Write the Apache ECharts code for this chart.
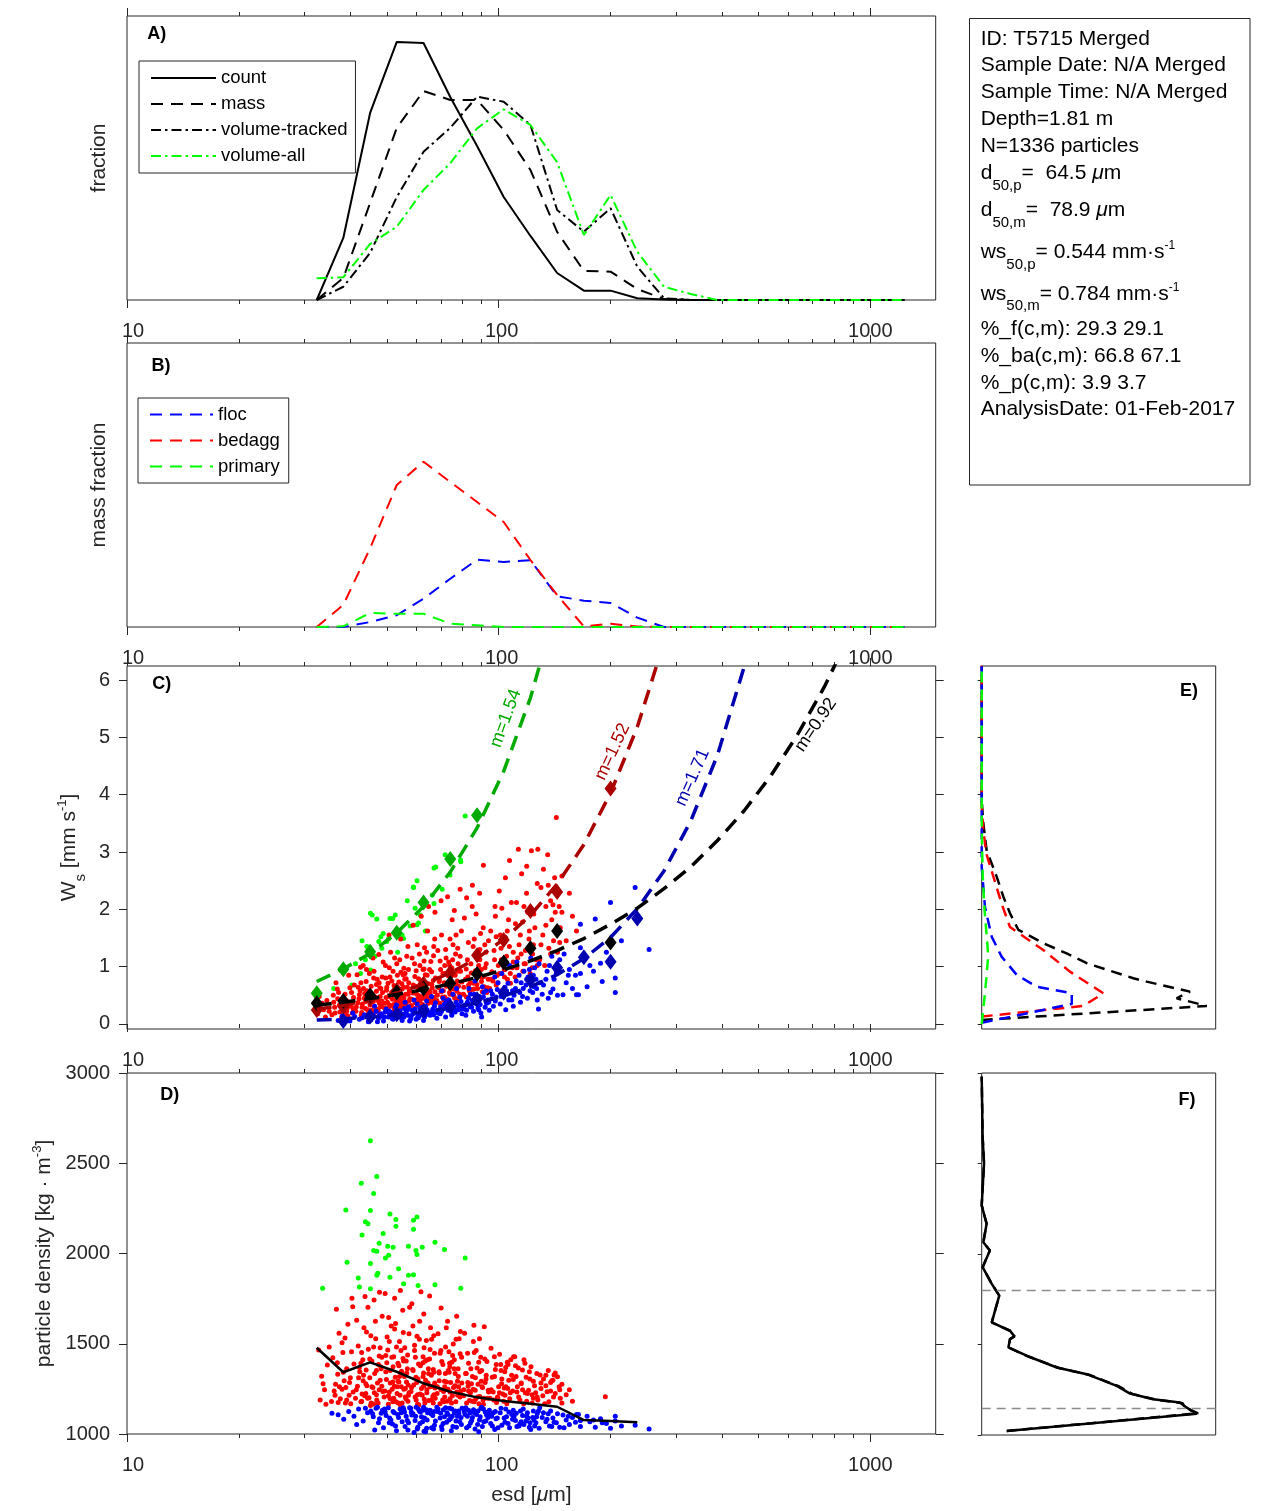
<!DOCTYPE html>
<html><head><meta charset="utf-8">
<script src="https://cdn.jsdelivr.net/npm/echarts@6.0.0/dist/echarts.min.js"></script>
<style>html,body{margin:0;padding:0;background:#fff}#c{width:1270px;height:1511px}</style>
</head><body><div id="c"></div>
<script>
// ---------------- DATA ----------------
const binCenters = [32.4,38.2,45.1,53.2,62.8,74.1,87.5,103.2,121.8,143.7,169.6,200.1,236.1,278.6,328.8,388.0,457.8,540.2,637.5,752.2,887.6,1047.4,1235.9];
const countFrac  = [0,0.0464,0.1399,0.1930,0.1922,0.1518,0.1152,0.0770,0.0479,0.0202,0.0070,0.0070,0.0013,0.0004,0,0,0,0,0,0,0,0,0];
const massFrac   = [0,0.0165,0.0726,0.1287,0.1563,0.1496,0.1496,0.1272,0.0972,0.0509,0.0217,0.0212,0.0082,0.0007,0,0,0,0,0,0,0,0,0];
const volTracked = [0,0.0099,0.0352,0.0770,0.1109,0.1287,0.1521,0.1483,0.1309,0.0673,0.0511,0.0686,0.0249,0.0013,0,0,0,0,0,0,0,0,0];
const volAll     = [0.0162,0.0170,0.0419,0.0548,0.0823,0.1023,0.1284,0.1426,0.1309,0.1030,0.0486,0.0785,0.0361,0.0099,0.0045,0,0,0,0,0,0,0,0];
const flocMass   = [0,0,0.0037,0.0088,0.0212,0.0361,0.0503,0.0486,0.0499,0.0230,0.0197,0.0180,0.0070,0,0,0,0,0,0,0,0,0,0];
const bedaggMass = [0,0.0165,0.0589,0.1062,0.1236,0.1085,0.0935,0.0785,0.0501,0.0239,0.0004,0.0025,0.0004,0,0,0,0,0,0,0,0,0,0];
const primMass   = [0,0.0005,0.0105,0.0099,0.0099,0.0025,0.0013,0,0,0,0,0,0,0,0,0,0,0,0,0,0,0,0];
const fracMax = 0.2124;

// C: bin means of settling velocity (mm/s)
const primMeanWs = [0.535,0.954,1.26,1.59,2.12,2.88,3.64];
const baMeanWs   = [0.244,0.30,0.44,0.59,0.70,0.895,1.20,1.465,1.97,2.30,null,4.11];
const flocMeanWs = [null,0.052,0.128,0.169,0.227,0.302,0.43,0.546,0.767,0.98,1.163,1.087,1.84];
const allMeanWs  = [0.36,0.40,0.50,0.55,0.62,0.71,0.87,1.07,1.32,1.62,null,1.42];
// C: fitted curves [esd, ws]
const primFit = [[32.4,0.74],[38.2,0.96],[45.1,1.23],[53.2,1.59],[62.8,2.05],[74.1,2.65],[87.5,3.42],[103.2,4.41],[121.8,5.69],[143.7,7.34]];
const baFit   = [[32.4,0.254],[38.2,0.327],[45.1,0.42],[53.2,0.54],[62.8,0.694],[74.1,0.892],[87.5,1.147],[103.2,1.475],[121.8,1.896],[143.7,2.44],[169.6,3.13],[200.1,4.03],[236.1,5.18],[278.6,6.66]];
const flocFit = [[32.4,0.067],[38.2,0.089],[45.1,0.119],[53.2,0.158],[62.8,0.209],[74.1,0.277],[87.5,0.368],[103.2,0.488],[121.8,0.648],[143.7,0.86],[169.6,1.14],[200.1,1.51],[236.1,2.01],[278.6,2.67],[328.8,3.54],[388,4.69],[457.8,6.23],[540.2,8.25]];
const allFit  = [[32.4,0.326],[38.2,0.38],[45.1,0.442],[53.2,0.514],[62.8,0.599],[74.1,0.697],[87.5,0.812],[103.2,0.946],[121.8,1.10],[143.7,1.28],[169.6,1.49],[200.1,1.74],[236.1,2.02],[278.6,2.36],[328.8,2.74],[388,3.20],[457.8,3.72],[540.2,4.33],[637.5,5.05],[752.2,5.88],[887.6,6.84]];
const fitLabels = ['m=1.54','m=1.52','m=1.71','m=0.92'];

// C scatter: [esd um, ws mm/s]
const primWs = [[81.3,3.63],[67.0,2.72],[71.8,2.95],[79.1,2.83],[60.3,2.50],[59.0,2.38],[67.0,2.10],[59.6,2.02],[61.5,1.90],[51.0,1.84],[52.7,1.90],[45.7,1.90],[47.0,1.83],[60.9,1.76],[57.8,1.71],[48.9,1.58],[50.6,1.49],[55.5,1.49],[42.9,1.45],[44.2,1.35],[47.6,1.44],[48.5,1.32],[40.3,0.68],[42.5,0.88],[45.2,0.94],[50.0,1.44],[55.0,1.55],[66.3,2.25],[67.7,2.74],[79.0,2.86],[59.0,2.39],[45.2,1.93],[51.9,1.84],[48.2,1.52],[60.3,1.73],[38.5,0.95],[36.0,0.62],[43.8,1.12],[53.5,1.25],[63.5,1.62],[70.5,2.35],[56.8,2.15],[41.2,1.05],[46.5,1.18],[74.0,2.60]];
const baWs = [[32.6,0.18],[33.1,0.32],[33.8,0.25],[34.5,0.41],[32.9,0.48],[35.0,0.22],[34.2,0.12],[33.5,0.36],
[35.6,0.16],[36.2,0.29],[36.9,0.44],[37.4,0.21],[38.0,0.35],[38.6,0.52],[39.1,0.27],[39.8,0.63],[40.4,0.19],[36.5,0.72],[37.8,0.12],[38.9,0.41],[40.1,0.31],[39.5,0.85],[36.0,0.38],[37.1,0.55],[38.3,0.24],[40.7,0.46],[35.9,0.50],[39.3,0.14],[37.6,0.95],[40.9,0.68],
[41.3,0.22],[41.8,0.37],[42.4,0.58],[42.9,0.29],[43.5,0.45],[44.0,0.74],[44.6,0.18],[45.1,0.33],[45.7,0.51],[46.2,0.92],[46.8,0.26],[47.3,0.41],[47.9,0.63],[48.4,0.35],[48.9,1.08],[41.6,0.86],[42.7,0.15],[43.2,1.02],[44.3,0.48],[45.4,0.66],[46.5,0.21],[47.1,0.78],[48.1,0.30],[48.7,0.55],[42.1,0.44],[43.8,0.27],[44.9,0.88],[46.0,0.39],[47.6,1.21],[45.9,1.15],[41.9,0.64],[43.0,0.35],[44.2,0.58],[45.5,0.24],[46.6,0.47],[47.8,0.36],[48.6,0.82],[42.5,0.99],[44.7,1.28],[46.9,0.57],
[49.3,0.28],[49.8,0.46],[50.4,0.71],[50.9,0.33],[51.5,0.55],[52.0,0.92],[52.6,0.24],[53.1,0.39],[53.7,0.62],[54.2,1.12],[54.8,0.31],[55.3,0.49],[55.9,0.78],[56.4,0.37],[57.0,1.35],[57.5,0.58],[49.6,1.02],[50.6,0.21],[51.2,1.25],[51.8,0.43],[52.3,0.67],[52.9,0.29],[53.4,0.85],[54.0,0.48],[54.5,1.48],[55.1,0.36],[55.6,0.97],[56.2,0.52],[56.7,0.27],[57.3,0.72],[49.9,0.59],[50.2,0.38],[51.0,0.82],[52.1,0.51],[53.2,1.05],[54.4,0.41],[55.5,0.64],[56.6,1.18],[57.7,0.44],[50.7,1.55],[53.8,0.34],[56.0,0.88],[52.4,0.26],[54.9,0.70],[57.2,0.95],
[58.2,0.32],[58.8,0.54],[59.5,0.83],[60.1,0.38],[60.8,0.61],[61.4,1.02],[62.1,0.29],[62.7,0.45],[63.4,0.72],[64.0,1.25],[64.7,0.36],[65.3,0.57],[66.0,0.91],[66.6,0.42],[67.3,1.48],[58.5,1.15],[59.2,0.27],[60.4,1.38],[61.1,0.49],[61.7,0.76],[62.4,0.34],[63.0,0.96],[63.7,0.52],[64.4,1.62],[65.0,0.40],[65.7,1.09],[66.3,0.63],[67.0,0.35],[67.6,0.80],[59.8,0.66],[60.6,0.44],[62.9,0.58],[64.2,0.85],[65.5,0.47],[66.8,1.19],[58.9,1.72],[61.9,1.88],[64.8,2.05],[67.4,1.95],[63.2,1.33],[60.0,0.93],[66.1,0.69],
[68.2,0.41],[69.0,0.63],[69.8,0.95],[70.6,0.47],[71.4,0.72],[72.2,1.15],[73.0,0.38],[73.8,0.55],[74.6,0.84],[75.4,1.38],[76.2,0.45],[77.0,0.68],[77.8,1.05],[78.6,0.52],[79.4,1.62],[68.6,1.28],[69.4,0.36],[70.2,1.55],[71.0,0.58],[71.8,0.88],[72.6,0.43],[73.4,1.08],[74.2,0.62],[75.0,1.82],[75.8,0.49],[76.6,1.22],[77.4,0.75],[78.2,0.44],[79.0,0.92],[70.0,2.15],[72.9,2.22],[76.0,1.98],[78.8,2.35],[74.0,1.48],[71.6,1.02],[77.6,1.32],[69.2,0.78],[73.6,0.70],
[80.4,0.52],[81.4,0.78],[82.4,1.12],[83.4,0.58],[84.4,0.89],[85.4,1.35],[86.4,0.49],[87.4,0.69],[88.4,1.02],[89.4,1.58],[90.4,0.56],[91.4,0.83],[92.4,1.25],[93.4,0.63],[80.9,1.85],[81.9,0.47],[82.9,1.42],[83.9,0.72],[84.9,2.05],[85.9,0.61],[86.9,1.18],[87.9,0.88],[88.9,2.28],[89.9,0.74],[90.9,1.68],[91.9,0.98],[92.9,0.55],[93.9,1.45],[85.0,2.42],[91.0,2.77],[87.0,1.92],[82.0,2.20],[89.0,1.30],
[94.6,0.62],[95.9,0.91],[97.2,1.28],[98.5,0.68],[99.8,1.02],[101.1,1.55],[102.4,0.59],[103.7,0.82],[105.0,1.18],[106.3,1.82],[107.6,0.71],[108.9,0.98],[95.2,1.62],[96.5,0.75],[97.8,2.05],[99.1,0.85],[100.4,2.32],[101.7,1.12],[103.0,1.42],[104.3,2.55],[105.6,0.78],[106.9,1.35],[108.2,2.12],[109.5,1.08],[98.0,1.88],[102.0,2.02],[107.0,2.85],[104.0,0.95],
[110.8,0.82],[112.6,1.15],[114.4,1.55],[116.2,0.92],[118.0,1.28],[119.8,1.95],[121.6,0.88],[123.4,1.22],[125.2,1.68],[127.0,2.45],[111.7,2.12],[113.5,1.38],[115.3,2.62],[117.1,1.05],[118.9,2.28],[120.7,1.48],[122.5,3.02],[124.3,1.92],[126.1,1.12],[113.0,3.05],[119.0,2.75],[116.0,1.78],
[129.0,1.12],[131.5,1.55],[134.0,2.05],[136.5,1.32],[139.0,1.82],[141.5,2.55],[144.0,1.25],[146.5,1.68],[130.0,2.38],[133.0,1.02],[135.5,2.95],[138.0,2.15],[140.5,1.45],[143.0,3.6],[145.5,2.05],[127.5,3.05],[148.0,1.95],[132.0,2.70],
[152,1.45],[158,1.88],[155,2.28],[162,1.62],[148,2.58],
[36.3,0.19],[37.3,0.33],[38.2,0.47],[39.0,0.22],[39.7,0.38],[40.6,0.26],[36.8,0.61],[38.7,0.17],[40.2,0.55],[37.9,0.28],
[41.4,0.30],[42.2,0.51],[42.8,0.20],[43.3,0.62],[43.9,0.39],[44.4,0.25],[45.0,0.56],[45.6,0.42],[46.3,0.31],[46.9,0.69],[47.4,0.24],[48.0,0.48],[48.5,0.40],[44.1,0.95],[46.1,0.80],[47.7,0.72],[42.6,0.72],[45.2,0.19],[48.2,0.62],[43.6,0.53],
[49.4,0.36],[50.0,0.64],[50.5,0.29],[51.1,0.47],[51.6,0.75],[52.2,0.34],[52.7,0.56],[53.3,0.44],[53.9,0.73],[54.4,0.27],[55.0,0.61],[55.6,0.45],[56.1,0.33],[56.8,0.64],[57.4,0.40],[50.8,0.98],[52.5,1.15],[54.6,0.90],[56.4,0.79],[51.9,0.31],[53.6,0.53],[55.3,0.86],[57.1,0.52],[49.7,0.80],[54.1,0.61],
[58.3,0.43],[58.9,0.68],[59.6,0.37],[60.2,0.52],[60.9,0.79],[61.5,0.41],[62.2,0.63],[62.8,0.49],[63.5,0.86],[64.1,0.45],[64.8,0.70],[65.4,0.54],[66.1,0.38],[66.7,0.76],[67.4,0.56],[59.4,1.05],[61.2,1.22],[63.0,1.10],[65.2,0.95],[66.9,1.35],[60.5,0.33],[62.6,0.95],[64.5,0.58],[67.0,0.46],
[68.4,0.50],[69.2,0.74],[70.0,0.56],[70.8,0.88],[71.6,0.47],[72.4,0.66],[73.2,0.84],[74.0,0.52],[74.8,0.98],[75.6,0.61],[76.4,0.85],[77.2,0.57],[78.0,0.66],[78.8,1.18],[79.6,0.73],[69.6,1.10],[72.0,1.30],[75.2,1.12],[77.8,0.92],[71.2,0.42],[73.8,1.02],[76.8,1.55],
[80.6,0.64],[81.8,0.96],[83.0,0.68],[84.2,1.05],[85.4,0.71],[86.6,0.93],[87.8,0.62],[89.0,1.12],[90.2,0.81],[91.4,0.65],[92.6,1.05],[93.8,0.78],[82.6,0.82],[86.0,1.48],[88.4,1.28],[91.8,1.38],[84.8,0.60],[89.8,0.95],
[95.5,0.78],[97.5,1.12],[99.5,0.72],[101.5,1.32],[103.5,0.95],[105.5,1.62],[107.5,0.88],[109.5,1.25],[112,0.98],[115,1.22],[118,1.05],[121,1.62],[124,1.38],[127,1.02],[98.5,1.52],[104.5,1.08],[111,1.75],[117,2.05],[123,0.98],[100.5,0.88],
[130,1.38],[134,1.72],[138,1.22],[142,1.95],[146,1.42],[136,2.42],[140,2.08]];
const flocWs = [[37.0,0.06],[38.5,0.10],[39.8,0.05],[41.0,0.13],[42.2,0.08],[43.5,0.16],[44.6,0.04],[40.5,0.19],[43.0,0.11],[38.0,0.14],
[45.3,0.07],[46.0,0.15],[46.8,0.22],[47.5,0.10],[48.3,0.18],[49.0,0.05],[49.8,0.26],[50.5,0.12],[51.3,0.20],[52.0,0.08],[52.8,0.29],[53.5,0.14],[54.3,0.23],[55.0,0.06],[46.4,0.31],[48.7,0.13],[50.9,0.17],[53.1,0.33],[54.7,0.11],[47.2,0.04],[51.8,0.09],[49.5,0.21],
[55.6,0.12],[56.4,0.21],[57.2,0.30],[58.0,0.09],[58.8,0.18],[59.6,0.26],[60.4,0.35],[61.2,0.14],[62.0,0.23],[62.8,0.06],[63.6,0.31],[64.4,0.17],[56.0,0.38],[57.6,0.05],[59.2,0.42],[60.8,0.11],[62.4,0.29],[64.0,0.40],[58.4,0.24],[61.6,0.19],[63.2,0.12],[55.8,0.27],[60.0,0.08],[63.9,0.22],
[65.4,0.15],[66.5,0.26],[67.6,0.37],[68.7,0.19],[69.8,0.30],[70.9,0.45],[72.0,0.12],[73.1,0.24],[74.2,0.36],[75.3,0.52],[76.4,0.21],[77.5,0.33],[78.6,0.47],[79.7,0.18],[66.0,0.48],[68.2,0.10],[70.4,0.58],[72.6,0.29],[74.8,0.15],[77.0,0.62],[79.2,0.39],[71.5,0.35],[76.0,0.27],[67.0,0.22],[73.5,0.42],[78.0,0.25],
[80.8,0.26],[82.4,0.38],[84.0,0.52],[85.6,0.22],[87.2,0.35],[88.8,0.48],[90.4,0.65],[92.0,0.29],[93.6,0.42],[95.2,0.58],[96.8,0.31],[98.4,0.47],[99.6,0.72],[81.6,0.15],[83.2,0.62],[86.4,0.75],[89.6,0.19],[91.2,0.55],[94.4,0.24],[97.6,0.82],[85.0,0.41],[92.8,0.36],[88.0,0.28],[95.8,0.44],[83.8,0.30],[90.0,0.12],
[101,0.35],[103.5,0.52],[106,0.71],[108.5,0.42],[111,0.62],[113.5,0.85],[116,0.48],[118.5,0.68],[121,0.95],[123.5,0.55],[126,0.78],[128.5,1.05],[102,0.88],[104.5,0.25],[107,1.02],[109.5,0.31],[112,1.08],[114.5,0.38],[117,0.92],[119.5,0.45],[122,1.15],[124.5,0.65],[127,0.42],[105,0.58],[115,0.72],[125,0.98],[110,0.50],[120,0.82],
[131,0.52],[134,0.78],[137,1.02],[140,0.61],[143,0.88],[146,1.12],[149,0.51],[152,0.72],[155,0.95],[158,0.62],[161,0.85],[164,0.51],[128,0.26],[136,0.45],[144,0.50],[150,1.22],[166,0.88],[139,1.18],
[166,1.74],[182,1.83],[200,2.12],[233,2.38],[254,1.30],[166,1.33],[188,1.06],[154,0.85],[206,0.80],[190,0.74],[173,0.65],[206,0.55],[162,0.51],[176,1.02],[195,1.25],[214,1.45],[180,0.92],
[45.8,0.11],[47.8,0.16],[49.3,0.12],[50.8,0.22],[52.4,0.15],[53.8,0.19],[55.4,0.17],[56.8,0.25],[58.2,0.14],[59.8,0.20],[61.4,0.28],[62.6,0.17],[64.2,0.25],[65.8,0.21],[67.2,0.31],[68.4,0.24],[69.6,0.18],[71.0,0.27],[72.4,0.40],[73.8,0.30],[75.0,0.22],[76.8,0.38],[78.2,0.31],[79.4,0.26],[81.2,0.33],[83.0,0.45],[84.6,0.29],[86.0,0.52],[87.8,0.42],[89.2,0.34],[91.0,0.47],[92.4,0.58],[94.0,0.38],[96.2,0.52],[98.0,0.40],[99.2,0.60],[101.5,0.48],[104,0.64],[106.5,0.42],[109,0.58],[111.5,0.75],[114,0.55],[116.5,0.62],[119,0.78],[121.5,0.58],[124,0.85],[126.5,0.62],[129,0.72],[132,0.68],[135,0.92],[138,0.55],[141,0.78],[57.0,0.15],[60.6,0.13],[63.0,0.19],[66.8,0.16],[70.2,0.22],[74.6,0.28],[82.0,0.24],[88.4,0.25]];

// D: bin mean density and particle densities [esd um, kg/m3]
const allMeanRho = [1478,1342,1397,1345,1281,1234,1203,1183,1167,1151,1077,1072,1065];
const primRho = [[45.2,2625],[47.0,2426],[42.7,2389],[46.1,2333],[38.8,2241],[45.2,2238],[43.8,2176],[44.5,2165],[51.0,2219],[52.9,2188],[60.3,2202],[59.0,2184],[52.9,2151],[42.9,2102],[48.9,2111],[59.0,2135],[39.1,1951],[47.7,2057],[46.1,2016],[47.0,2013],[50.3,2040],[52.0,2035],[57.2,2040],[59.9,2016],[62.3,2035],[67.4,2063],[71.5,2022],[50.6,1990],[49.6,1975],[60.3,1994],[81.3,1975],[45.2,1944],[53.8,1916],[41.9,1864],[47.0,1879],[47.3,1891],[51.0,1868],[55.5,1832],[57.2,1879],[59.0,1882],[60.7,1823],[67.4,1827],[79.1,1808],[33.6,1808],[42.2,1814],[45.2,1805]];
const baRho = [[32.8,1465],[33.4,1320],[34.0,1245],[34.6,1382],[33.1,1188],[35.0,1482],[34.3,1165],[33.7,1278],
[35.5,1180],[36.1,1238],[36.6,1691],[37.2,1558],[37.9,1506],[38.4,1295],[39.0,1362],[39.6,1214],[40.3,1752],[40.5,1705],[35.8,1422],[36.9,1331],[37.5,1195],[38.1,1452],[38.8,1258],[39.3,1608],[40.0,1168],[40.8,1388],[36.4,1275],[38.6,1532],[39.9,1312],[37.0,1175],
[41.2,1198],[41.7,1264],[42.3,1345],[42.8,1452],[43.4,1588],[43.9,1225],[44.5,1702],[45.0,1312],[45.6,1405],[46.1,1166],[46.7,1528],[47.2,1283],[47.8,1785],[48.3,1362],[48.8,1235],[41.5,1630],[42.6,1178],[43.1,1412],[44.2,1268],[45.3,1545],[46.4,1335],[47.0,1188],[48.0,1478],[48.6,1652],[42.0,1312],[43.7,1762],[44.8,1201],[45.9,1258],[47.5,1385],[46.2,1742],[41.9,1488],[42.9,1222],[44.0,1355],[45.4,1172],[46.6,1625],[47.7,1245],[48.5,1425],[43.2,1295],[44.6,1470],[46.9,1218],
[49.2,1205],[49.7,1345],[50.3,1465],[50.8,1232],[51.4,1598],[51.9,1288],[52.5,1752],[53.0,1178],[53.6,1392],[54.1,1512],[54.7,1262],[55.2,1685],[55.8,1318],[56.3,1195],[56.9,1438],[57.4,1555],[49.5,1778],[50.5,1165],[51.1,1352],[51.7,1248],[52.2,1428],[52.8,1612],[53.3,1225],[53.9,1288],[54.4,1795],[55.0,1172],[55.5,1405],[56.1,1252],[56.6,1338],[57.2,1215],[49.9,1302],[50.1,1538],[51.0,1196],[52.0,1372],[53.1,1482],[54.3,1215],[55.4,1562],[56.5,1288],[57.6,1702],[50.6,1645],[53.7,1172],[55.9,1478],[52.4,1265],[54.8,1348],[57.0,1182],
[58.1,1235],[58.7,1358],[59.4,1492],[60.0,1188],[60.7,1305],[61.3,1625],[62.0,1252],[62.6,1395],[63.3,1172],[63.9,1518],[64.6,1278],[65.2,1765],[65.9,1325],[66.5,1208],[67.2,1448],[58.4,1722],[59.1,1272],[60.3,1542],[61.0,1162],[61.6,1378],[62.3,1215],[62.9,1665],[63.6,1298],[64.3,1412],[64.9,1185],[65.6,1588],[66.2,1265],[66.9,1342],[67.5,1198],[59.7,1425],[60.5,1218],[62.8,1338],[64.1,1245],[65.4,1468],[66.7,1172],[58.8,1598],[61.8,1788],[64.7,1362],[67.3,1282],[63.1,1192],[59.9,1315],[66.0,1525],
[68.3,1225],[69.1,1345],[69.9,1462],[70.7,1188],[71.5,1292],[72.3,1588],[73.1,1248],[73.9,1372],[74.7,1172],[75.5,1498],[76.3,1268],[77.1,1652],[77.9,1318],[78.7,1205],[79.5,1425],[68.7,1555],[69.5,1168],[70.3,1402],[71.1,1235],[71.9,1335],[72.7,1182],[73.5,1455],[74.3,1285],[75.1,1212],[75.9,1362],[76.7,1178],[77.5,1292],[78.3,1528],[79.1,1238],[70.0,1698],[72.9,1625],[76.0,1412],[78.9,1568],[74.0,1195],[71.6,1262],[77.6,1215],[69.2,1295],[73.6,1342],
[80.5,1212],[81.5,1335],[82.5,1448],[83.5,1185],[84.5,1278],[85.5,1512],[86.5,1242],[87.5,1365],[88.5,1168],[89.5,1425],[90.5,1258],[91.5,1594],[92.5,1305],[93.5,1198],[81.0,1558],[82.0,1172],[83.0,1392],[84.0,1228],[85.0,1318],[86.0,1178],[87.0,1462],[88.0,1275],[89.0,1208],[90.0,1352],[91.0,1165],[92.0,1285],[93.0,1402],[94.0,1232],[85.8,1602],[88.8,1528],[82.8,1265],[90.8,1188],[86.8,1195],
[94.8,1198],[96.1,1315],[97.4,1428],[98.7,1175],[100.0,1262],[101.3,1385],[102.6,1222],[103.9,1345],[105.2,1168],[106.5,1298],[107.8,1412],[109.1,1238],[95.4,1475],[96.7,1232],[98.0,1358],[99.3,1205],[100.6,1442],[101.9,1278],[103.2,1182],[104.5,1368],[105.8,1252],[107.1,1195],[108.4,1325],[109.7,1428],[97.0,1188],[102.0,1305],[106.0,1385],[104.0,1215],
[110.5,1428],[112.3,1262],[114.1,1188],[115.9,1355],[117.7,1392],[119.5,1225],[121.3,1305],[123.1,1172],[124.9,1268],[126.7,1335],[111.4,1318],[113.2,1205],[115.0,1278],[116.8,1168],[118.6,1315],[120.4,1242],[122.2,1372],[124.0,1198],[125.8,1228],[113.0,1365],[119.0,1182],[116.0,1245],
[129.3,1327],[131.5,1212],[134.0,1268],[136.5,1178],[139.0,1295],[141.0,1327],[144.0,1317],[146.5,1198],[130.0,1252],[133.0,1168],[135.0,1234],[138.0,1285],[140.5,1205],[142.0,1225],[145.5,1262],[127.5,1188],[148.0,1172],[132.0,1305],
[152,1218],[158,1182],[155,1245],[193.7,1207],[148,1275],
[36.3,1215],[37.3,1262],[38.2,1342],[39.0,1188],[39.7,1285],[40.6,1232],[36.8,1395],[38.7,1172],[40.2,1455],[37.9,1248],
[41.4,1245],[42.2,1368],[42.8,1182],[43.3,1325],[43.9,1278],[44.4,1198],[45.0,1415],[45.6,1262],[46.3,1228],[46.9,1352],[47.4,1172],[48.0,1298],[48.5,1265],[44.1,1565],[46.1,1482],[47.7,1432],[42.6,1392],[45.2,1158],[48.2,1372],[43.6,1212],
[49.4,1238],[50.0,1395],[50.5,1212],[51.1,1282],[51.6,1425],[52.2,1198],[52.7,1315],[53.3,1262],[53.9,1378],[54.4,1162],[55.0,1335],[55.6,1248],[56.1,1205],[56.8,1362],[57.4,1228],[50.8,1512],[52.5,1582],[54.6,1462],[56.4,1405],[51.9,1178],[53.6,1292],[55.3,1418],[57.1,1272],[49.7,1435],[54.1,1318],
[58.3,1258],[58.9,1352],[59.6,1205],[60.2,1285],[60.9,1388],[61.5,1222],[62.6,1318],[62.8,1265],[63.5,1405],[64.1,1228],[64.8,1335],[65.4,1262],[66.1,1188],[66.7,1358],[67.4,1255],[59.4,1462],[61.2,1525],[63.0,1478],[65.2,1415],[66.9,1545],[60.5,1165],[62.6,1428],[64.5,1282],[67.0,1218],
[68.4,1262],[69.2,1338],[70.0,1245],[70.8,1385],[71.6,1205],[72.4,1288],[73.2,1352],[74.0,1232],[74.8,1398],[75.6,1258],[76.4,1335],[77.2,1232],[78.0,1262],[78.8,1445],[79.6,1282],[69.6,1448],[72.0,1482],[75.2,1435],[77.8,1362],[71.2,1178],[73.8,1392],[76.8,1525],
[80.6,1245],[81.8,1335],[83.0,1238],[84.2,1362],[85.4,1248],[86.6,1312],[87.8,1205],[89.0,1345],[90.2,1262],[91.4,1198],[92.6,1325],[93.8,1242],[82.6,1285],[86.0,1452],[88.4,1398],[91.8,1415],[84.8,1182],[89.8,1292],
[95.5,1245],[97.5,1318],[99.5,1202],[101.5,1352],[103.5,1255],[105.5,1398],[107.5,1228],[109.5,1302],[112,1232],[115,1282],[118,1228],[121,1345],[124,1292],[127,1205],[98.5,1385],[104.5,1262],[111,1378],[117,1412],[123,1218],[100.5,1228],
[130,1282],[134,1325],[138,1238],[142,1338],[146,1245],[136,1352],[140,1298]];
const flocRho = [[35.6,1115],[37.0,1106],[38.3,1082],[39.5,1125],[40.8,1098],[42.0,1138],[43.2,1072],[44.4,1118],[41.5,1052],[43.8,1142],
[45.3,1128],[46.0,1095],[46.8,1142],[47.5,1062],[48.3,1115],[49.0,1035],[49.8,1102],[50.5,1145],[51.3,1078],[52.0,1125],[52.8,1045],[53.5,1108],[54.3,1138],[55.0,1068],[46.4,1022],[48.7,1132],[50.9,1088],[53.1,1018],[54.7,1118],[47.2,1148],[51.8,1055],[49.5,1122],
[55.6,1135],[56.4,1098],[57.2,1062],[58.0,1142],[58.8,1112],[59.6,1075],[60.4,1028],[61.2,1128],[62.0,1095],[62.8,1148],[63.6,1012],[64.4,1118],[56.0,1042],[57.6,1145],[59.2,1008],[60.8,1138],[62.4,1068],[64.0,1032],[58.4,1105],[61.6,1122],[63.2,1088],[55.8,1122],[60.0,1148],[63.9,1135],
[65.4,1132],[66.5,1102],[67.6,1072],[68.7,1138],[69.8,1115],[70.9,1058],[72.0,1145],[73.1,1108],[74.2,1085],[75.3,1042],[76.4,1128],[77.5,1098],[78.6,1068],[79.7,1142],[66.0,1035],[68.2,1148],[70.4,1025],[72.6,1118],[74.8,1138],[77.0,1038],[79.2,1092],[71.5,1095],[76.0,1118],[67.0,1125],[73.5,1078],[78.0,1128],
[80.8,1125],[82.4,1098],[84.0,1062],[85.6,1135],[87.2,1108],[88.8,1078],[90.4,1042],[92.0,1122],[93.6,1092],[95.2,1058],[96.8,1118],[98.4,1085],[99.6,1035],[81.6,1145],[83.2,1045],[86.4,1028],[89.6,1142],[91.2,1068],[94.4,1132],[97.6,1025],[85.0,1092],[92.8,1105],[88.0,1128],[95.8,1098],[83.8,1118],[90.0,1148],
[101,1118],[103.5,1088],[106,1058],[108.5,1108],[111,1075],[113.5,1045],[116,1102],[118.5,1072],[121,1038],[123.5,1092],[126,1062],[128.5,1032],[102,1048],[104.5,1138],[107,1035],[109.5,1132],[112,1042],[114.5,1128],[117,1052],[119.5,1118],[122,1025],[124.5,1078],[127,1112],[105,1095],[115,1068],[125,1045],[110,1098],[120,1088],
[131,1092],[134,1068],[137,1045],[140,1088],[143,1062],[146,1038],[149,1105],[152,1078],[155,1052],[158,1092],[161,1065],[164,1108],[128,1128],[136,1112],[144,1112],[150,1035],[166,1075],[139,1042],
[166,1042],[182,1038],[200,1032],[233,1048],[254,1028],[166,1078],[188,1085],[154,1098],[206,1072],[190,1062],[173,1098],[206,1098],[162,1108],[176,1068],[195,1058],[214,1045],[180,1078],
[45.8,1112],[47.8,1085],[49.3,1138],[50.8,1062],[52.4,1118],[53.8,1092],[55.4,1145],[56.8,1075],[58.2,1122],[59.8,1098],[61.4,1058],[62.6,1132],[64.2,1078],[65.8,1112],[67.2,1048],[68.4,1125],[69.6,1088],[71.0,1135],[72.4,1065],[73.8,1142],[75.0,1098],[76.8,1072],[78.2,1112],[79.4,1052],[81.2,1108],[83.0,1132],[84.6,1075],[86.0,1118],[87.8,1052],[89.2,1095],[91.0,1138],[92.4,1072],[94.0,1112],[96.2,1045],[98.0,1125],[99.2,1088],[101.5,1142],[104,1065],[106.5,1122],[109,1082],[111.5,1115],[114,1055],[116.5,1138],[119,1098],[121.5,1062],[124,1128],[126.5,1095],[129,1145],[132,1118],[135,1082],[138,1128],[141,1065],[57.0,1022],[60.6,1038],[63.0,1015],[66.8,1028],[70.2,1042],[74.6,1018],[82.0,1035],[88.4,1012]];

// E: ws distributions [relative frequency, ws]
const eAll  = [[0,0.07],[0.962,0.314],[0.833,0.448],[0.89,0.564],[0.705,0.738],[0.648,0.797],[0.449,1.06],[0.363,1.23],[0.263,1.41],[0.157,1.64],[0.121,1.93],[0.0925,2.22],[0.064,2.57],[0.021,3.03],[0.007,3.5],[0,3.9],[0,6.25]];
const eBa   = [[0,0.13],[0.434,0.314],[0.52,0.535],[0.377,0.913],[0.263,1.29],[0.121,1.69],[0.085,2.1],[0.05,2.57],[0.02,2.97],[0.007,3.38],[0,3.79],[0,6.25]];
const eFloc = [[0,0.02],[0.385,0.349],[0.385,0.535],[0.235,0.65],[0.15,0.855],[0.085,1.175],[0.043,1.52],[0.014,2.04],[0,2.74],[0,6.25]];
const ePrim = [[0,0],[0.008,0.3],[0.02,0.8],[0.028,1.2],[0.02,1.6],[0.012,2.0],[0.004,2.6],[0,3.5],[0,6.25]];
// F: density distributions [relative frequency, density]
const fCount = [[0.107,1022],[0.919,1118],[0.876,1151],[0.847,1179],[0.733,1198],[0.634,1229],[0.577,1271],[0.449,1336],[0.321,1373],[0.192,1438],[0.114,1484],[0.121,1530],[0.14,1545],[0.121,1576],[0.043,1622],[0.075,1770],[0.043,1835],[0.004,1927],[0.035,2019],[0.007,2065],[0.021,2167],[0,2269],[0.01,2500],[0.004,2647],[0,2980]];
const fMass  = [[0.107,1022],[0.925,1120],[0.87,1150],[0.858,1176],[0.742,1196],[0.645,1226],[0.588,1268],[0.458,1333],[0.33,1370],[0.195,1436],[0.114,1484],[0.121,1530],[0.14,1545],[0.121,1576],[0.043,1622],[0.075,1770],[0.043,1835],[0.004,1927],[0.035,2019],[0.007,2065],[0.021,2167],[0,2269],[0.01,2500],[0.004,2647],[0,2980]];
const rhoRefLines = [1800, 1150];

const xMajor = [10, 100, 1000];
const xMinor = [20,30,40,50,60,70,80,90,200,300,400,500,600,700,800,900];
const wsTicks = [0,1,2,3,4,5,6];

const infoLines = [
  'ID: T5715 Merged','Sample Date: N/A Merged','Sample Time: N/A Merged','Depth=1.81 m','N=1336 particles',
  '{a|d}{s|50,p}{a|=  64.5 }{mu|μ}{a|m}','{a|d}{s|50,m}{a|=  78.9 }{mu|μ}{a|m}',
  '{a|ws}{s|50,p}{a|= 0.544 mm·s}{p|-1}','{a|ws}{s|50,m}{a|= 0.784 mm·s}{p|-1}',
  '%_f(c,m): 29.3 29.1','%_ba(c,m): 66.8 67.1','%_p(c,m): 3.9 3.7','AnalysisDate: 01-Feb-2017'];
const infoY = [39,65.5,92.5,119.5,146,173.5,210.5,252.5,294,329.5,356.5,383.5,409.5];

// ---------------- STYLE / BUILD ----------------
const FONT = '"Liberation Sans", Arial, Helvetica, sans-serif';
const AX = '#262626';
const pairs = (xs, ys) => ys.map((y, i) => (y == null ? null : [xs[i], y])).filter(Boolean);
const fmt = v => String(Math.round(v));
const xFmt = v => { const r = Math.round(v); return r === 10 ? '{s|10}' : (r === 100 ? '{t|100}' : String(r)); };
const xRich = {
  s:{padding:[0,0,0,12], fontSize:20, color:AX, fontFamily:FONT},
  t:{padding:[0,0,0,6], fontSize:20, color:AX, fontFamily:FONT}
};

const grids = [
  {left:127, top:16,  width:808.7, height:284},
  {left:127, top:343, width:808.7, height:284},
  {left:127, top:666, width:808.7, height:363},
  {left:127, top:1073,width:808.7, height:361},
  {left:981.7, top:666, width:234, height:363},
  {left:981.7, top:1073,width:234, height:362}
].map(g => Object.assign(g, {show:true, borderColor:AX, borderWidth:1, backgroundColor:'rgba(0,0,0,0)', containLabel:false, outerBoundsMode:'none'}));

function logAxes(gi, extra) {
  const base = {type:'log', logBase:10, gridIndex:gi, min:10, max:1500, axisLine:{show:false}, splitLine:{show:false}, minorTick:{show:false}, minorSplitLine:{show:false}};
  const tick = (vals, len) => ({show:true, inside:false, length:len, customValues:vals, lineStyle:{color:AX, width:1}});
  return [
    Object.assign({}, base, {position:'bottom', axisTick:tick(xMajor, 8),
      axisLabel:{show:true, customValues:xMajor, margin:21, fontSize:20, color:AX, fontFamily:FONT, formatter:xFmt, rich:xRich}}, extra || {}),
    Object.assign({}, base, {position:'bottom', axisTick:tick(xMinor, 4), axisLabel:{show:false}}),
    Object.assign({}, base, {position:'top', axisTick:tick(xMajor, 8), axisLabel:{show:false}}),
    Object.assign({}, base, {position:'top', axisTick:tick(xMinor, 4), axisLabel:{show:false}})
  ];
}
const xAxis = [].concat(
  logAxes(0), logAxes(1), logAxes(2),
  logAxes(3, {name:'esd [{mu|μ}m]', nameLocation:'middle', nameGap:50.5,
     nameTextStyle:{fontSize:21, color:AX, fontFamily:FONT, rich:{mu:{fontSize:21, fontStyle:'italic', color:AX, fontFamily:FONT}}}}),
  [{type:'value', gridIndex:4, min:0, max:1, axisLine:{show:false}, axisTick:{show:false}, axisLabel:{show:false}, splitLine:{show:false}},
   {type:'value', gridIndex:5, min:0, max:1, axisLine:{show:false}, axisTick:{show:false}, axisLabel:{show:false}, splitLine:{show:false}}]
);
const noTicks = {axisLine:{show:false}, axisTick:{show:false}, axisLabel:{show:false}, splitLine:{show:false}};
const nameStyle = {fontSize:21, color:AX, fontFamily:FONT};
const yAxis = [
  Object.assign({type:'value', gridIndex:0, min:0, max:fracMax, position:'left', name:'fraction', nameLocation:'middle', nameGap:17.5, nameRotate:90, nameTextStyle:nameStyle}, noTicks),
  Object.assign({type:'value', gridIndex:1, min:0, max:fracMax, position:'left', name:'mass fraction', nameLocation:'middle', nameGap:17.5, nameRotate:90, nameTextStyle:nameStyle}, noTicks),
  {type:'value', gridIndex:2, min:-0.088, max:6.245, position:'left', axisLine:{show:false}, splitLine:{show:false},
   axisTick:{show:true, inside:false, length:8, customValues:wsTicks, lineStyle:{color:AX}},
   axisLabel:{show:true, customValues:wsTicks, margin:17, fontSize:20, color:AX, fontFamily:FONT, formatter:fmt},
   name:'{a|W}{b|s}{a| [mm s}{c|-1}{a|]}', nameLocation:'middle', nameGap:39, nameRotate:90,
   nameTextStyle:{fontSize:21, color:AX, fontFamily:FONT, rich:{
     a:{fontSize:21, color:AX, fontFamily:FONT},
     b:{fontSize:15, color:AX, fontFamily:FONT, padding:[22,0,0,0]},
     c:{fontSize:13, color:AX, fontFamily:FONT, padding:[0,0,14,0]}}}},
  {type:'value', gridIndex:2, min:-0.088, max:6.245, position:'right', axisLine:{show:false}, splitLine:{show:false},
   axisTick:{show:true, inside:false, length:8, customValues:wsTicks, lineStyle:{color:AX}}, axisLabel:{show:false}},
  {type:'value', gridIndex:3, min:1000, max:3000, interval:500, position:'left', axisLine:{show:false}, splitLine:{show:false},
   axisTick:{show:true, inside:false, length:8, lineStyle:{color:AX}},
   axisLabel:{show:true, margin:17, fontSize:20, color:AX, fontFamily:FONT, formatter:fmt},
   name:'{a|particle density [kg · m}{c|-3}{a|]}', nameLocation:'middle', nameGap:67, nameRotate:90,
   nameTextStyle:{fontSize:21, color:AX, fontFamily:FONT, rich:{
     a:{fontSize:21, color:AX, fontFamily:FONT},
     c:{fontSize:13, color:AX, fontFamily:FONT, padding:[0,0,14,0]}}}},
  {type:'value', gridIndex:3, min:1000, max:3000, interval:500, position:'right', axisLine:{show:false}, splitLine:{show:false},
   axisTick:{show:true, inside:false, length:8, lineStyle:{color:AX}}, axisLabel:{show:false}},
  {type:'value', gridIndex:4, min:-0.088, max:6.245, position:'right', axisLine:{show:false}, splitLine:{show:false},
   axisTick:{show:true, inside:true, length:4, customValues:wsTicks, lineStyle:{color:AX}}, axisLabel:{show:false}},
  {type:'value', gridIndex:5, min:1000, max:3000, interval:500, position:'right', axisLine:{show:false}, splitLine:{show:false},
   axisTick:{show:true, inside:true, length:4, lineStyle:{color:AX}}, axisLabel:{show:false}}
];

const DASH = [12, 8], DASHDOT = [10, 4, 2.5, 4];
function line(name, xi, yi, data, color, width, type, extra) {
  return Object.assign({type:'line', name, xAxisIndex:xi, yAxisIndex:yi, data, symbol:'none', showSymbol:false, silent:true,
    lineStyle:{color, width, type}, itemStyle:{color}}, extra || {});
}
function dots(name, xi, yi, data, color, size, symbol, extra) {
  return Object.assign({type:'scatter', name, xAxisIndex:xi, yAxisIndex:yi, data, symbol:symbol || 'circle', symbolSize:size, silent:true,
    itemStyle:{color, opacity:1}}, extra || {});
}
const GREEN = '#00ff00', RED = '#ff0000', BLUE = '#0000ff';
const DG = '#00aa00', DR = '#aa0000', DB = '#0000b0';

const series = [
  // A
  line('count', 0, 0, pairs(binCenters, countFrac), '#000', 2, 'solid'),
  line('mass', 0, 0, pairs(binCenters, massFrac), '#000', 2, DASH),
  line('volume-tracked', 0, 0, pairs(binCenters, volTracked), '#000', 2, DASHDOT),
  line('volume-all', 0, 0, pairs(binCenters, volAll), GREEN, 2, DASHDOT),
  // B
  line('floc', 4, 1, pairs(binCenters, flocMass), BLUE, 2, DASH),
  line('bedagg', 4, 1, pairs(binCenters, bedaggMass), RED, 2, DASH),
  line('primary', 4, 1, pairs(binCenters, primMass), GREEN, 2, DASH),
  // C scatter
  dots('prim-ws', 8, 2, primWs, GREEN, 5),
  dots('ba-ws', 8, 2, baWs, RED, 5),
  dots('floc-ws', 8, 2, flocWs, BLUE, 5),
  // C fits
  line('prim-fit', 8, 2, primFit, DG, 3.5, [15, 9]),
  line('ba-fit', 8, 2, baFit, DR, 3.5, [15, 9]),
  line('floc-fit', 8, 2, flocFit, DB, 3.5, [15, 9]),
  line('all-fit', 8, 2, allFit, '#000', 3.5, [15, 9]),
  // C means
  dots('prim-mean', 8, 2, pairs(binCenters, primMeanWs), DG, [12, 16], 'diamond'),
  dots('ba-mean', 8, 2, pairs(binCenters, baMeanWs), DR, [12, 16], 'diamond'),
  dots('floc-mean', 8, 2, pairs(binCenters, flocMeanWs), DB, [12, 16], 'diamond'),
  dots('all-mean', 8, 2, pairs(binCenters, allMeanWs), '#000', [12, 16], 'diamond'),
  // D
  dots('prim-rho', 12, 4, primRho, GREEN, 5),
  dots('ba-rho', 12, 4, baRho, RED, 5),
  dots('floc-rho', 12, 4, flocRho, BLUE, 5),
  line('all-rho', 12, 4, pairs(binCenters, allMeanRho), '#000', 2.5, 'solid'),
  // E
  line('E-all', 16, 6, eAll, '#000', 2.5, [11, 7]),
  line('E-ba', 16, 6, eBa, RED, 2.5, [11, 7]),
  line('E-floc', 16, 6, eFloc, BLUE, 2.5, [11, 7]),
  line('E-prim', 16, 6, ePrim, GREEN, 2.5, [11, 7]),
  // F
  line('F-mass', 17, 7, fMass, '#000', 2.5, [10, 6]),
  line('F-count', 17, 7, fCount, '#000', 2.5, 'solid', {
    markLine:{silent:true, symbol:'none', label:{show:false}, animation:false,
      lineStyle:{color:'#8c8c8c', type:[9, 6], width:1.3},
      data: rhoRefLines.map(v => ({yAxis:v}))}})
];

function legendCfg(left, top, w, data, pad) {
  return {left, top, orient:'vertical', data, selectedMode:false, itemWidth:w, itemHeight:10, itemGap:6,
    padding:pad, borderColor:AX, borderWidth:1, backgroundColor:'#ffffff',
    textStyle:{fontSize:18.5, lineHeight:20, color:'#000', fontFamily:FONT},
    itemStyle:{color:'rgba(0,0,0,0)', borderColor:'rgba(0,0,0,0)', borderWidth:0},
    lineStyle:{width:2}};
}
const legend = [
  legendCfg(139, 61, 65, ['count','mass','volume-tracked','volume-all'], [7, 8, 7, 11]),
  legendCfg(138, 398, 63, ['floc','bedagg','primary'], [6.5, 9, 6.5, 11])
];

function gtext(x, y, text, style, rot) {
  return {type:'text', x, y, rotation: rot ? rot * Math.PI / 180 : 0, silent:true, z:100,
    style: Object.assign({text, fontFamily:FONT, fontSize:21, fill:'#000', align:'left', verticalAlign:'middle'}, style || {})};
}
const infoRich = {
  a:{fontSize:21, fontFamily:FONT, fill:'#000', verticalAlign:'middle'},
  s:{fontSize:15, fontFamily:FONT, fill:'#000', padding:[24,0,0,0], verticalAlign:'middle'},
  p:{fontSize:12, fontFamily:FONT, fill:'#000', padding:[0,0,13,0], verticalAlign:'middle'},
  mu:{fontSize:21, fontFamily:FONT, fill:'#000', fontStyle:'italic', verticalAlign:'middle'}
};
const graphic = [
  {type:'rect', silent:true, z:90, shape:{x:969.5, y:18.5, width:280.5, height:466.5}, style:{fill:'#fff', stroke:AX, lineWidth:1}}
].concat(
  infoLines.map((t, i) => gtext(980.7, infoY[i], t, t.indexOf('{') >= 0 ? {rich:infoRich} : {})),
  [['A)',156.7,34],['B)',161,366],['C)',161.7,684],['D)',169.7,1095.5],['E)',1189,691.5],['F)',1187,1100.5]]
    .map(p => gtext(p[1], p[2], p[0], {fontWeight:'bold', fontSize:18, align:'center'})),
  [
    gtext(505.8, 718.3, fitLabels[0], {fill:DG, fontSize:18, align:'center'}, 70),
    gtext(612.5, 751.7, fitLabels[1], {fill:DR, fontSize:18, align:'center'}, 65),
    gtext(692.5, 777.5, fitLabels[2], {fill:DB, fontSize:18, align:'center'}, 66),
    gtext(815.8, 725, fitLabels[3], {fill:'#000', fontSize:18, align:'center'}, 56)
  ]
);

const chart = echarts.init(document.getElementById('c'), null, {renderer:'canvas'});
chart.setOption({
  animation:false, backgroundColor:'#fff',
  textStyle:{fontFamily:FONT},
  grid:grids, xAxis, yAxis, series, legend, graphic
});
</script></body></html>
